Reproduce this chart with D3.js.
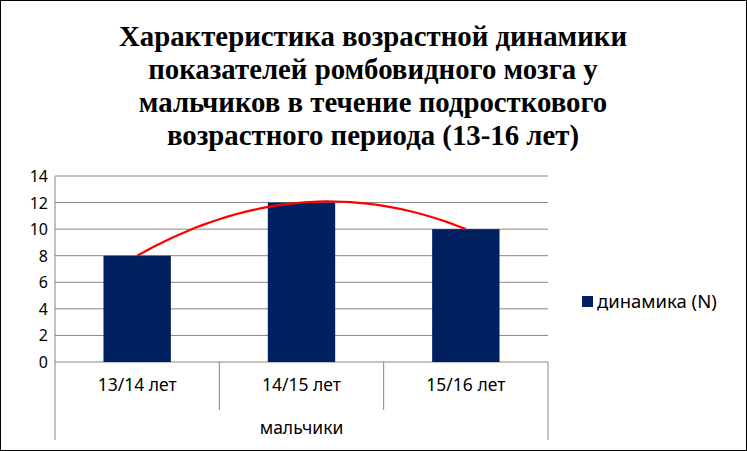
<!DOCTYPE html>
<html><head><meta charset="utf-8">
<script src="https://cdn.jsdelivr.net/npm/d3@7"></script>
<style>body{margin:0;background:#fff}</style></head>
<body><svg id="c" width="747" height="451"></svg>
<script>
const categories = ["13/14 лет","14/15 лет","15/16 лет"];
const values = [8,12,10];
const groupLabel = "мальчики";
const seriesName = "динамика (N)";
const yTicks = [0,2,4,6,8,10,12,14];
const titleLines = ["Характеристика возрастной динамики","показателей ромбовидного мозга у","мальчиков в течение подросткового","возрастного периода (13-16 лет)"];

const svg = d3.select("#c");
svg.append("rect").attr("x",0.5).attr("y",0.5).attr("width",746).attr("height",450).attr("fill","#fff").attr("stroke","#000");
const L=55,R=548,T=176,B=362;
const x = d3.scaleBand().domain(categories).range([L,R]).paddingInner(0.59).paddingOuter(0.295);
const xs = d3.scaleBand().domain(categories).range([L,R]);
const y = d3.scaleLinear().domain([0,14]).range([B,T]);

svg.selectAll("text.t").data(titleLines).enter().append("text")
 .attr("x",373).attr("y",(d,i)=>46+i*33).attr("text-anchor","middle")
 .attr("font-family","Liberation Serif").attr("font-weight","bold").attr("font-size",28.8).text(d=>d);

svg.selectAll("line.g").data(yTicks).enter().append("line")
 .attr("x1",L).attr("x2",R).attr("y1",d=>y(d)).attr("y2",d=>y(d)).attr("stroke","#868686");
svg.append("line").attr("x1",L).attr("x2",L).attr("y1",T).attr("y2",B).attr("stroke","#868686");
svg.selectAll("text.y").data(yTicks).enter().append("text")
 .attr("x",L-7).attr("y",d=>y(d)+6).attr("text-anchor","end")
 .attr("font-family","Noto Sans").attr("font-size",16).text(d=>d);

svg.selectAll("rect.b").data(values).enter().append("rect")
 .attr("x",(d,i)=>x(categories[i])).attr("width",x.bandwidth())
 .attr("y",d=>y(d)).attr("height",d=>B-y(d)).attr("fill","#002060");

const seps = categories.map(c=>xs(c)).concat([R]);
svg.selectAll("line.s").data(seps).enter().append("line")
 .attr("x1",d=>d).attr("x2",d=>d).attr("y1",B).attr("y2",(d,i)=>(i==0||i==seps.length-1)?440:410).attr("stroke","#868686");
svg.selectAll("text.c").data(categories).enter().append("text")
 .attr("x",d=>xs(d)+xs.bandwidth()/2).attr("y",391).attr("text-anchor","middle")
 .attr("font-family","Noto Sans").attr("font-size",17.5).text(d=>d);
svg.append("text").attr("x",(L+R)/2).attr("y",434).attr("text-anchor","middle")
 .attr("font-family","Noto Sans").attr("font-size",17.5).text(groupLabel);

const px = values.map((v,i)=>i+1);
function lag(t){let s=0;for(let i=0;i<3;i++){let p=values[i];for(let j=0;j<3;j++) if(j!=i) p*=(t-px[j])/(px[i]-px[j]); s+=p;}return s;}
const tx = d3.scaleLinear().domain([1,3]).range([x(categories[0])+x.bandwidth()/2, x(categories[2])+x.bandwidth()/2]);
const pts = d3.range(1,3.0001,0.05).map(t=>[tx(t),y(lag(t))]);
svg.append("path").attr("d",d3.line()(pts)).attr("fill","none").attr("stroke","#ff0000").attr("stroke-width",2.2);

svg.append("rect").attr("x",582).attr("y",296).attr("width",11).attr("height",11).attr("fill","#002060");
svg.append("text").attr("x",597).attr("y",308).attr("font-family","Noto Sans").attr("font-size",18.5).text(seriesName);
</script></body></html>
